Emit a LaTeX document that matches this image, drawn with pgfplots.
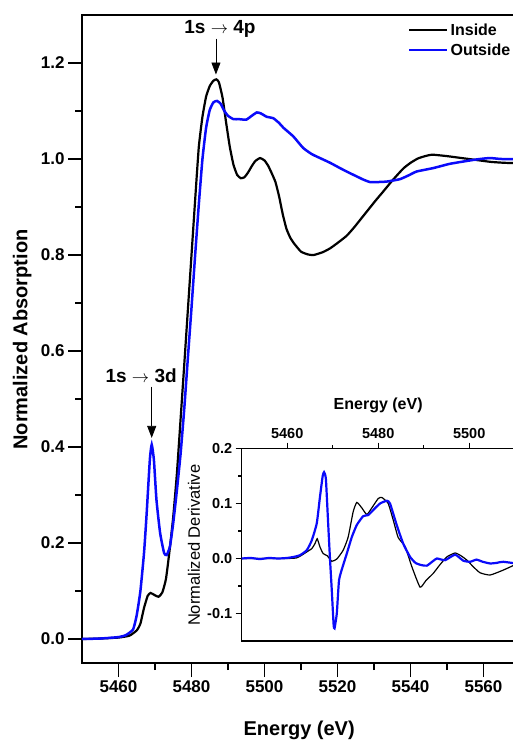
\documentclass[border=0pt]{standalone}
\usepackage{pgfplots}
\pgfplotsset{compat=1.18}
\usepackage{fontspec}
\setmainfont{Liberation Sans}
\usetikzlibrary{arrows.meta}
\definecolor{myblue}{RGB}{10,10,250}
\newcommand{\mtk}[1]{{\fontsize{17pt}{20pt}\selectfont\bfseries #1}}
\newcommand{\itk}[1]{{\fontsize{14.5pt}{17pt}\selectfont\bfseries #1}}

\pgfplotstableread{
E v
5450 0.000
5455 0.001
5460 0.003
5463 0.007
5465 0.018
5466 0.032
5467 0.065
5468 0.090
5468.8 0.096
5470 0.091
5471 0.088
5472 0.097
5473 0.125
5474 0.185
5475 0.255
5476 0.345
5477 0.457
5478 0.570
5479 0.685
5480 0.800
5481 0.915
5482 1.025
5483 1.088
5484 1.130
5485 1.152
5486 1.163
5486.8 1.166
5487.5 1.160
5488.5 1.128
5489.5 1.075
5490.5 1.025
5491.5 0.988
5492.5 0.967
5493.5 0.960
5494.5 0.962
5495.5 0.972
5496.5 0.985
5497.5 0.996
5498.8 1.002
5500 0.997
5501 0.986
5502 0.970
5503 0.952
5504 0.922
5505 0.885
5506 0.855
5507 0.837
5508 0.825
5510 0.807
5512 0.801
5513.5 0.800
5516 0.806
5518 0.814
5520 0.825
5522.5 0.840
5524.5 0.857
5526.5 0.876
5528.5 0.895
5530.5 0.914
5532.5 0.932
5535 0.955
5538 0.980
5540 0.992
5542 1.001
5544 1.006
5546 1.009
5550 1.006
5554 1.002
5558 0.998
5562 0.994
5566 0.992
5572 0.991
}\inside

\pgfplotstableread{
E v
5450 0.000
5455 0.001
5460 0.004
5462 0.008
5464 0.020
5465 0.050
5466 0.100
5467 0.180
5467.7 0.260
5468.6 0.375
5469.1 0.405
5469.7 0.373
5470.4 0.290
5471.4 0.221
5472.5 0.179
5473.2 0.175
5474.1 0.193
5475 0.242
5476 0.310
5477 0.385
5478 0.478
5479 0.585
5480 0.690
5481 0.800
5482 0.905
5483 1.000
5484 1.065
5485 1.102
5486 1.118
5487 1.121
5488 1.115
5489 1.100
5490 1.090
5491.5 1.083
5493 1.083
5495 1.082
5496.5 1.090
5497.9 1.097
5499 1.095
5500.6 1.088
5502.4 1.085
5504 1.075
5505.2 1.065
5507.9 1.047
5510.6 1.023
5513 1.010
5515.2 1.002
5518 0.992
5520.7 0.981
5523 0.972
5525.2 0.964
5527.1 0.957
5528.9 0.952
5531 0.952
5533.5 0.953
5537.1 0.958
5539.5 0.966
5541.7 0.974
5546.2 0.981
5550.8 0.990
5556.3 0.997
5559 1.000
5561.8 1.002
5565 1.000
5572 1.000
}\outside

\pgfplotstableread{
E v
5450 0
5455 0
5460 0
5462 0.001
5463 0.005
5464.3 0.012
5465.4 0.018
5466.1 0.027
5466.6 0.036
5467.2 0.021
5467.9 0.009
5468.8 0.005
5469.8 -0.005
5470.9 -0.001
5472.3 0.015
5473.4 0.039
5474.5 0.085
5475.3 0.102
5476.4 0.092
5477.5 0.080
5478.6 0.092
5480 0.109
5480.8 0.111
5482.2 0.100
5483.3 0.070
5484.4 0.038
5485.9 0.022
5487.4 -0.015
5489.2 -0.052
5490.5 -0.040
5492.1 -0.027
5493.5 -0.012
5495.1 0.003
5496.9 0.010
5498.2 0.005
5499.5 -0.003
5500.9 -0.015
5502.4 -0.026
5504.6 -0.030
5507.5 -0.021
5512 -0.004
}\dinside

\pgfplotstableread{
E v
5450 0
5452 0.001
5454 -0.001
5456 0.001
5458 0
5460 0.001
5461.5 0.003
5462.8 0.006
5464.3 0.015
5465.4 0.033
5466.5 0.064
5467.2 0.112
5467.8 0.150
5468.1 0.157
5468.5 0.145
5469.0 0.064
5469.4 0.0
5469.8 -0.058
5470.2 -0.120
5470.4 -0.127
5470.9 -0.100
5471.4 -0.039
5472.3 -0.012
5473.1 0.009
5474.2 0.039
5475.3 0.061
5476.7 0.077
5477.8 0.079
5478.9 0.088
5480.4 0.100
5481.9 0.105
5482.6 0.100
5484.1 0.060
5485.5 0.027
5487.0 0.003
5488.2 -0.008
5489.5 -0.012
5490.7 -0.013
5492.0 -0.005
5492.9 0.0
5494.7 -0.003
5496.9 0.007
5498.7 -0.004
5500.2 -0.006
5501.6 -0.002
5503 -0.006
5504.6 -0.009
5506 -0.008
5507.5 -0.006
5512 -0.011
}\doutside

\begin{document}
\begin{tikzpicture}
\useasboundingbox (0pt,0pt) rectangle (513pt,-740pt);
\clip (0pt,0pt) rectangle (513pt,-740pt);
\begin{axis}[
  at={(82pt,-663pt)}, anchor=south west,
  x=3.65pt, y=480pt,
  xmin=5450, xmax=5572, ymin=-0.05, ymax=1.3,
  clip=false,
  axis line style={line width=1.3pt},
  every tick/.style={line width=1.3pt, black},
  tick align=outside,
  xtick pos=bottom, ytick pos=left,
  xtick={5460,5480,5500,5520,5540,5560},
  xticklabels={\mtk{5460},\mtk{5480},\mtk{5500},\mtk{5520},\mtk{5540},\mtk{5560}},
  minor x tick num=1,
  ytick={0,0.2,0.4,0.6,0.8,1.0,1.2},
  yticklabels={\mtk{0.0},\mtk{0.2},\mtk{0.4},\mtk{0.6},\mtk{0.8},\mtk{1.0},\mtk{1.2}},
  minor y tick num=1,
  major tick length=14pt, minor tick length=7pt,
  legend style={draw=none, fill=none, at={(axis cs:5539.3,1.287)}, anchor=north west,
    inner sep=0pt, font=\bfseries\fontsize{16}{16}\selectfont, row sep=3pt,
    cells={anchor=west}},
  legend image code/.code={\draw[#1] (0pt,0pt) -- (38pt,0pt);},
]
\addplot[black, line width=2.2pt, smooth, tension=0.3] table[x=E,y=v] {\inside};
\addlegendentry{Inside}
\addplot[myblue, line width=2.5pt, smooth, tension=0.3] table[x=E,y=v] {\outside};
\addlegendentry{Outside}
\node[font=\bfseries\fontsize{19}{19}\selectfont] at (axis cs:5487.8,1.272) {1s $\rightarrow$ 4p};
\draw[line width=0.8pt, -{Triangle[length=12pt,width=9pt]}] (axis cs:5486.7,1.251) -- (axis cs:5486.7,1.176);
\node[font=\bfseries\fontsize{19}{19}\selectfont] at (axis cs:5466.2,0.548) {1s $\rightarrow$ 3d};
\draw[line width=0.8pt, -{Triangle[length=12pt,width=9pt]}] (axis cs:5469.1,0.526) -- (axis cs:5469.1,0.419);
\node[font=\bfseries\fontsize{20}{20}\selectfont] at (axis cs:5509.5,-0.19) {Energy (eV)};
\node[font=\bfseries\fontsize{20}{20}\selectfont, rotate=90] at (axis cs:5433.6,0.624) {Normalized Absorption};
\end{axis}
\begin{axis}[
  at={(241.7pt,-641pt)}, anchor=south west,
  x=4.55pt, y=550pt,
  xmin=5450, xmax=5512, ymin=-0.15, ymax=0.2,
  clip=false,
  axis background/.style={fill=white},
  axis line style={line width=1.3pt},
  every tick/.style={line width=1.1pt, black},
  tick align=outside,
  xtick pos=top, xticklabel pos=top, ytick pos=left,
  xtick={5460,5480,5500},
  xticklabels={\itk{5460},\itk{5480},\itk{5500}},
  minor x tick num=1,
  ytick={-0.1,0,0.1,0.2},
  yticklabels={\itk{-0.1},\itk{0.0},\itk{0.1},\itk{0.2}},
  minor y tick num=1,
  major tick length=6pt, minor tick length=3.5pt,
]
\addplot[black, line width=1.2pt, smooth, tension=0.3] table[x=E,y=v] {\dinside};
\addplot[myblue, line width=2.2pt, smooth, tension=0.3] table[x=E,y=v] {\doutside};
\node[font=\bfseries\fontsize{16}{16}\selectfont] at (axis cs:5480,0.279) {Energy (eV)};
\node[font=\fontsize{16.5}{16.5}\selectfont, rotate=90] at (axis cs:5439.5,0.024) {Normalized Derivative};
\end{axis}
\end{tikzpicture}
\end{document}
